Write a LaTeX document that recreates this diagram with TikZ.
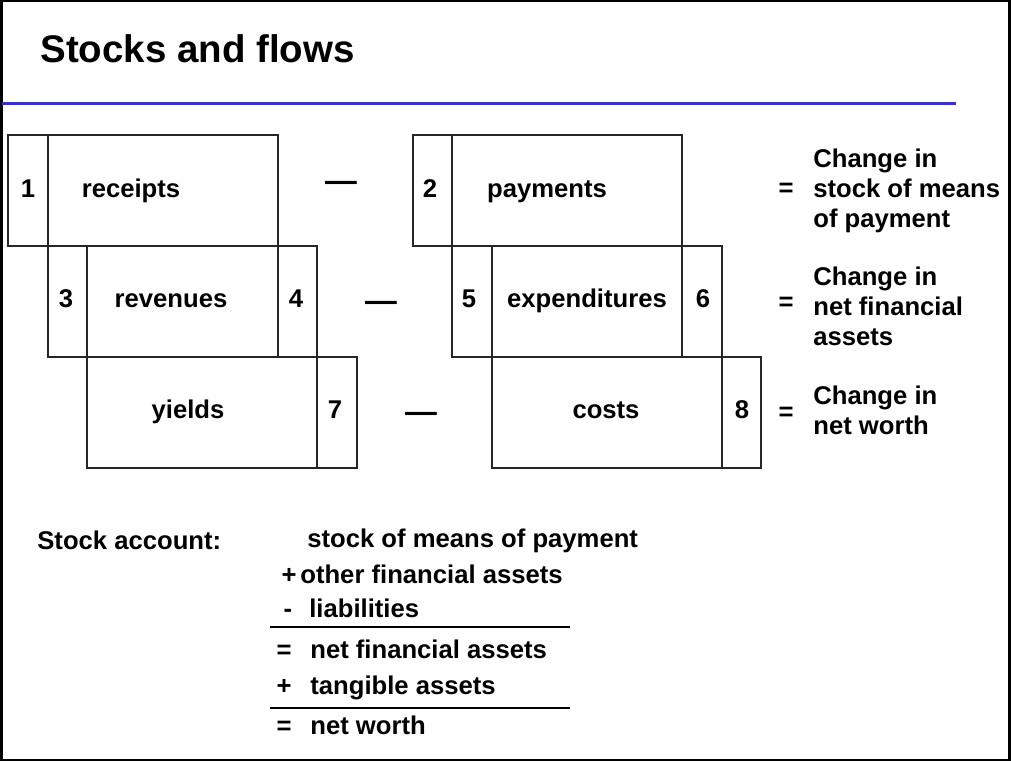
\documentclass[tikz,border=0pt]{standalone}
\usepackage{fontspec}
\setmainfont{Liberation Sans}
\usetikzlibrary{positioning}
\definecolor{rulblue}{rgb}{0.2, 0.2, 0.8}
\tikzset{lbl/.style = {font=\fontsize{14.6}{17}\selectfont\bfseries, inner sep=0}}
\tikzset{cell/.style = {lbl, anchor=base}}
\tikzset{acct/.style = {lbl, anchor=base west}}
\tikzset{heading/.style = {font=\fontsize{21.9}{26}\selectfont\bfseries, inner sep=0, anchor=base west}}
\tikzset{minus/.style = {font=\fontsize{18.1}{20}\selectfont\bfseries, inner sep=0}}
\tikzset{flowbox/.style = {draw=black!85, line width=0.6pt}}

\begin{document}
\begin{tikzpicture}[x=0.02cm, y=-0.02cm]
    \useasboundingbox (0, 0) rectangle (1011, 762);
    \draw [line width=1.2pt] (1.5, 1) rectangle (1009.5, 760);

    \node [heading] (title) at (40, 62) {Stocks and flows};
    \draw [rulblue, line width=1.7pt] (2, 103) -- (956, 103);

    % inflow side
    \draw [flowbox] (8, 135) rectangle (278, 246);
    \draw [flowbox] (48, 135) -- (48, 246);
    \draw [flowbox] (48, 246) rectangle (317, 357);
    \draw [flowbox] (87, 246) -- (87, 357);
    \draw [flowbox] (278, 246) -- (278, 357);
    \draw [flowbox] (87, 357) rectangle (357, 468);
    \draw [flowbox] (317, 357) -- (317, 468);
    \node [cell] (n1) at (28, 197) {1};
    \node [cell] (receipts) at (131, 197) {receipts};
    \node [cell] (n3) at (66, 307) {3};
    \node [cell] (revenues) at (171, 307) {revenues};
    \node [cell] (n4) at (296, 307) {4};
    \node [cell] (yields) at (188, 418) {yields};
    \node [cell] (n7) at (335, 418) {7};

    \node [minus] (m1) at (341, 186) {\textemdash};
    \node [minus] (m2) at (381, 306) {\textemdash};
    \node [minus] (m3) at (421, 417) {\textemdash};

    % outflow side
    \begin{scope}[shift={(405, 0)}]
      \draw [flowbox] (8, 135) rectangle (277, 246);
      \draw [flowbox] (47, 135) -- (47, 246);
      \draw [flowbox] (47, 246) rectangle (317, 357);
      \draw [flowbox] (87, 246) -- (87, 357);
      \draw [flowbox] (277, 246) -- (277, 357);
      \draw [flowbox] (87, 357) rectangle (356, 468);
      \draw [flowbox] (317, 357) -- (317, 468);
      \node [cell] (n2) at (25, 197) {2};
      \node [cell] (payments) at (142, 197) {payments};
      \node [cell] (n5) at (64, 307) {5};
      \node [cell] (expenditures) at (182, 307) {expenditures};
      \node [cell] (n6) at (298, 307) {6};
      \node [cell] (costs) at (201, 418) {costs};
      \node [cell] (n8) at (337, 418) {8};
    \end{scope}

    % results
    \node [lbl] (e1) at (786, 190) {=};
    \node [lbl] (e2) at (786, 304) {=};
    \node [lbl] (e3) at (786, 414) {=};
    \node [lbl, align=left, anchor=west] (chg1) at (813, 191) {Change in\\stock of means\\of payment};
    \node [lbl, align=left, anchor=west] (chg2) at (813, 306) {Change in\\net financial\\assets};
    \node [lbl, align=left, anchor=west] (chg3) at (813, 410) {Change in\\net worth};

    % stock account
    \node [acct] (stockacc) at (37, 549) {Stock account:};
    \node [acct] (means) at (307, 547) {stock of means of payment};
    \node [cell] (s1) at (289, 583) {+};
    \node [acct] (otherfa) at (300, 583) {other financial assets};
    \node [cell] (s2) at (288, 617) {-};
    \node [acct] (liab) at (309, 617) {liabilities};
    \draw [line width=1pt] (270, 627) -- (570, 627);
    \node [cell] (s3) at (284, 658) {=};
    \node [acct] (netfa) at (310, 658) {net financial assets};
    \node [cell] (s4) at (284, 694) {+};
    \node [acct] (tangible) at (310, 694) {tangible assets};
    \draw [line width=1pt] (270, 708) -- (570, 708);
    \node [cell] (s5) at (284, 734) {=};
    \node [acct] (networth) at (310, 734) {net worth};
\end{tikzpicture}
\end{document}
